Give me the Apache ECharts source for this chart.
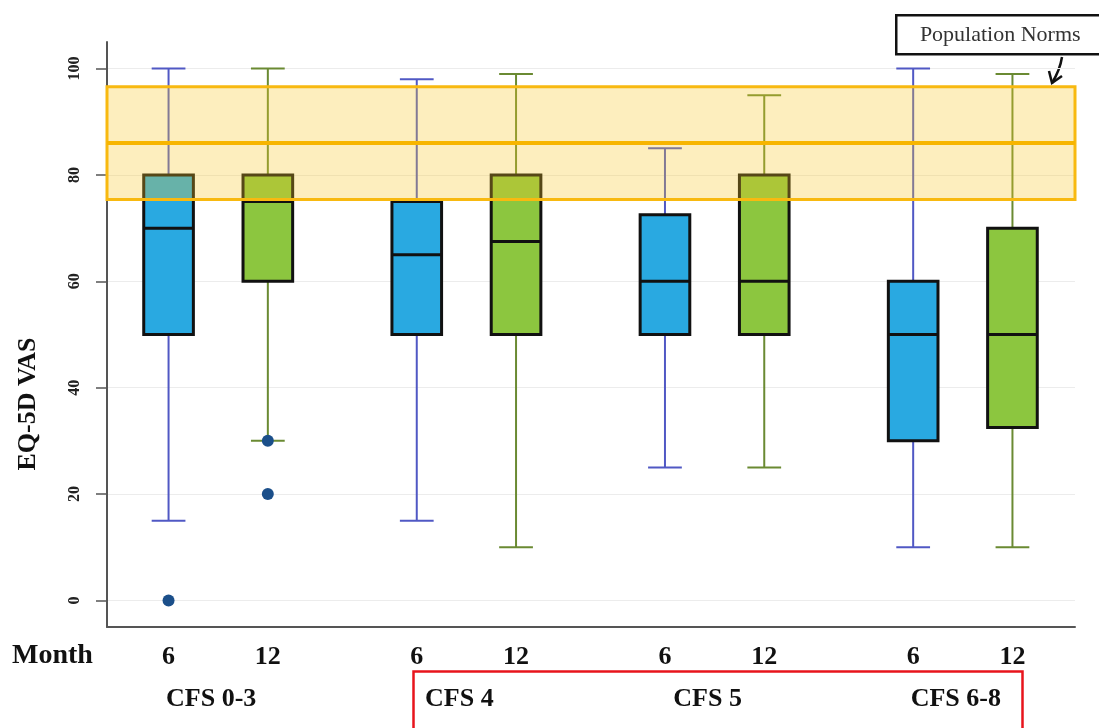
<!DOCTYPE html>
<html>
<head>
<meta charset="utf-8">
<script src="https://cdn.jsdelivr.net/npm/echarts@6/dist/echarts.min.js"></script>
<style>
  html, body { margin: 0; padding: 0; background: #fff; }
  #chart { width: 1099px; height: 728px; }
</style>
</head>
<body>
<div id="chart"></div>
<script>
// CFS groups, follow-up months and where each box sits on the x scale
const groups = ['CFS 0-3', 'CFS 4', 'CFS 5', 'CFS 6-8'];
const months = ['6', '12'];
const boxPositions = [1, 2, 3.5, 4.5, 6, 7, 8.5, 9.5];

// Box statistics, one entry per box (group order, 6 then 12 months)
const whiskerLow  = [15, 30, 15, 10, 25, 25, 10, 10];
const q1          = [50, 60, 50, 50, 50, 50, 30, 32.5];
const median      = [70, 75, 65, 67.5, 60, 60, 50, 50];
const q3          = [80, 80, 75, 80, 72.5, 80, 60, 70];
const whiskerHigh = [100, 100, 98, 99, 85, 95, 100, 99];

// Outliers as [x position, value]
const outliers = [[1, 0], [2, 30], [2, 20]];

// Population norm band (lower, mean, upper)
const normLow = 75.4, normMean = 86, normHigh = 96.6;

const yTicks = [0, 20, 40, 60, 80, 100];

const boxFill = ['#29a9e1', '#8cc63f'];
const whiskerColor = ['#5058c4', '#6a8a32'];
const serif = '"Liberation Serif", "DejaVu Serif", serif';

const boxData = boxPositions.map((x, i) => [x, whiskerLow[i], q1[i], median[i], q3[i], whiskerHigh[i], i % months.length]);
const groupCenters = groups.map((g, i) => (boxPositions[i * 2] + boxPositions[i * 2 + 1]) / 2);
const monthAt = v => {
  const i = boxPositions.findIndex(p => Math.abs(p - v) < 1e-6);
  return i < 0 ? '' : months[i % months.length];
};
const groupAt = v => {
  const i = groupCenters.findIndex(p => Math.abs(p - v) < 1e-6);
  return i < 0 ? '' : groups[i];
};

const xMin = 0.38, xMax = 10.13;

const chart = echarts.init(document.getElementById('chart'), null, { renderer: 'canvas' });

chart.setOption({
  animation: false,
  backgroundColor: '#ffffff',
  grid: { left: 107, right: 24, top: 42, bottom: 101 },
  xAxis: [
    {
      type: 'value', min: xMin, max: xMax,
      axisLine: { show: true, onZero: false, lineStyle: { color: '#555', width: 2 } },
      axisTick: { show: false, customValues: boxPositions },
      splitLine: { show: false },
      axisLabel: {
        customValues: boxPositions,
        formatter: v => monthAt(v),
        margin: 17,
        color: '#111', fontFamily: serif, fontWeight: 'bold', fontSize: 26
      }
    },
    {
      type: 'value', min: xMin, max: xMax, position: 'bottom',
      axisLine: { show: false, onZero: false },
      axisTick: { show: false, customValues: groupCenters },
      splitLine: { show: false },
      axisLabel: {
        customValues: groupCenters,
        formatter: v => groupAt(v),
        margin: 59,
        padding: [0, 14, 0, 0],
        color: '#111', fontFamily: serif, fontWeight: 'bold', fontSize: 26
      }
    }
  ],
  yAxis: {
    type: 'value', min: -5, max: 105,
    axisLine: { show: true, onZero: false, lineStyle: { color: '#555', width: 2 } },
    axisTick: { show: true, inside: false, length: 11, customValues: yTicks, lineStyle: { color: '#555', width: 1.5 } },
    splitLine: { show: true, lineStyle: { color: '#ececec', width: 1 } },
    axisLabel: {
      customValues: yTicks,
      rotate: 90,
      margin: 24,
      color: '#222', fontFamily: serif, fontWeight: 'bold', fontSize: 16
    }
  },
  series: [
    {
      type: 'custom',
      name: 'boxes',
      z: 2,
      encode: { x: 0, y: [1, 2, 3, 4, 5] },
      data: boxData,
      renderItem: function (params, api) {
        const x = api.value(0);
        const k = api.value(6);
        const pLow = api.coord([x, api.value(1)]);
        const pQ1 = api.coord([x, api.value(2)]);
        const pMed = api.coord([x, api.value(3)]);
        const pQ3 = api.coord([x, api.value(4)]);
        const pHigh = api.coord([x, api.value(5)]);
        const boxW = api.size([0.5, 0])[0];
        const capW = api.size([0.34, 0])[0];
        const cx = pMed[0];
        const wStyle = { stroke: whiskerColor[k], lineWidth: 2 };
        return {
          type: 'group',
          children: [
            { type: 'line', shape: { x1: cx, y1: pHigh[1], x2: cx, y2: pQ3[1] }, style: wStyle },
            { type: 'line', shape: { x1: cx, y1: pLow[1], x2: cx, y2: pQ1[1] }, style: wStyle },
            { type: 'line', shape: { x1: cx - capW / 2, y1: pHigh[1], x2: cx + capW / 2, y2: pHigh[1] }, style: wStyle },
            { type: 'line', shape: { x1: cx - capW / 2, y1: pLow[1], x2: cx + capW / 2, y2: pLow[1] }, style: wStyle },
            {
              type: 'rect',
              shape: { x: cx - boxW / 2, y: pQ3[1], width: boxW, height: pQ1[1] - pQ3[1] },
              style: { fill: boxFill[k], stroke: '#111', lineWidth: 3 }
            },
            { type: 'line', shape: { x1: cx - boxW / 2, y1: pMed[1], x2: cx + boxW / 2, y2: pMed[1] }, style: { stroke: '#111', lineWidth: 3 } }
          ]
        };
      }
    },
    {
      type: 'scatter',
      name: 'outliers',
      z: 3,
      symbol: 'circle',
      symbolSize: 12,
      itemStyle: { color: '#1b4f8a', opacity: 1 },
      data: outliers
    },
    {
      type: 'line',
      name: 'norms',
      z: 4,
      data: [],
      markArea: {
        silent: true,
        z: 10,
        itemStyle: { color: 'rgba(250, 200, 40, 0.3)', borderColor: '#f8b910', borderWidth: 3 },
        data: [[{ coord: [xMin, normLow] }, { coord: [xMax, normHigh] }]]
      },
      markLine: {
        silent: true,
        z: 11,
        symbol: 'none',
        label: { show: false },
        lineStyle: { color: '#f7b500', width: 4, type: 'solid' },
        data: [[{ coord: [xMin, normMean] }, { coord: [xMax, normMean] }]]
      }
    }
  ],
  graphic: [
    {
      type: 'text', x: 28, y: 404, rotation: Math.PI / 2,
      style: { text: 'EQ-5D VAS', fill: '#111', font: 'bold 26px ' + serif, align: 'center', verticalAlign: 'middle' }
    },
    {
      type: 'text', left: 12, top: 642,
      style: { text: 'Month', fill: '#111', font: 'bold 28px ' + serif }
    },
    {
      type: 'rect', left: 411, top: 669,
      shape: { width: 609, height: 80 },
      style: { fill: 'none', stroke: '#e8141c', lineWidth: 2.5 }
    },
    {
      type: 'group', left: 895, top: 14,
      children: [
        { type: 'rect', shape: { x: 0, y: 0, width: 215, height: 39 }, style: { fill: '#fff', stroke: '#111', lineWidth: 2.5 } },
        { type: 'text', x: 104, y: 20, style: { text: 'Population Norms', fill: '#333', font: '22px ' + serif, align: 'center', verticalAlign: 'middle' } }
      ]
    },
    {
      type: 'bezierCurve',
      shape: { x1: 1062, y1: 57, x2: 1052, y2: 83, cpx1: 1060, cpy1: 70 },
      style: { stroke: '#111', lineWidth: 2.5, fill: 'none' }
    },
    {
      type: 'polyline',
      shape: { points: [[1049, 71], [1052, 83], [1062, 76]] },
      style: { stroke: '#111', lineWidth: 2.5, fill: 'none' }
    }
  ]
});
</script>
</body>
</html>
